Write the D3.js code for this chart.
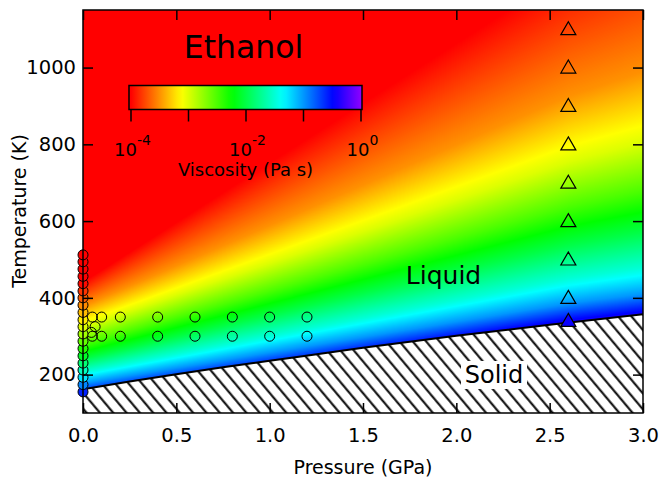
<!DOCTYPE html>
<html>
<head>
<meta charset="utf-8">
<script src="https://cdn.jsdelivr.net/npm/d3@7"></script>
<style>
  html, body { margin: 0; padding: 0; background: #fff; }
  svg { display: block; }
  text { font-family: "DejaVu Sans", sans-serif; fill: #000; }
</style>
</head>
<body>
<svg id="chart" width="662" height="483"></svg>
<script>
// ---------------- data ----------------
const pressureTicks = [0, 0.5, 1.0, 1.5, 2.0, 2.5, 3.0];
const temperatureTicks = [200, 400, 600, 800, 1000];

// iso-viscosity lines (log10 Pa s): temperature (K) at P = 0, 2.6 and 3 GPa
const viscLevels = [-4.5, -4, -3.5, -3, -2.5, -2, -1.5, -1, -0.5, 0];
const isoPressures = [0, 2.6, 3.0];
const isoT_P0   = [518, 441, 378, 325, 280, 241, 207, 177, 151, 127];
const isoT_P26  = [1600, 1250, 925, 754, 638, 538, 450, 386, 344, 302];
const isoT_P3   = [1725, 1343, 988, 804, 679, 572, 478, 410, 366, 322];

// melting curve
const meltP = [0, 0.25, 0.5, 0.75, 1.0, 1.5, 2.0, 2.5, 3.0];
const meltT = [162, 182, 201, 219, 236, 270, 301, 330, 357];

// ambient-pressure data (filled circles)
const ambientT = [155, 174, 193, 212, 230, 249, 268, 287, 306, 325, 343, 362, 381, 400, 418, 437, 456, 475, 494, 512];
const ambientLogVisc = [-0.59, -0.94, -1.27, -1.58, -1.84, -2.11, -2.35, -2.58, -2.80, -3.00, -3.18, -3.35, -3.52, -3.68, -3.82, -3.97, -4.10, -4.23, -4.35, -4.47];

// open circles (isotherms)
const isothermPressures = [0.05, 0.1, 0.2, 0.4, 0.6, 0.8, 1.0, 1.2];
const isothermTemps = [350, 300];
const extraCircleP = [0.065, 0.045];
const extraCircleT = [325, 310];

// triangles at 2.6 GPa
const trianglePressure = 2.6;
const triangleT = [1100, 1000, 900, 800, 700, 600, 500, 400, 340];
const triangleFilled = [false, false, false, false, false, false, false, false, true];
const triangleLogVisc = [null, null, null, null, null, null, null, null, -0.45];

// colour bar
const cbarTicks = [-4, -3, -2, -1, 0];
const cbarLabelExp = [-4, -2, 0];
const cmapLog = [-4, -3.12, -2.24, -1.36, -0.48, 0];
const cmapColors = ["#ff0000", "#ffff00", "#00ff00", "#00ffff", "#0000ff", "#8c00ff"];

// ---------------- scales ----------------
const svg = d3.select("#chart");
const x = d3.scaleLinear().domain([0, 3]).range([83, 643]);
const y = d3.scaleLinear().domain([100, 1150]).range([413, 10]);
const color = d3.scaleLinear().domain(cmapLog).range(cmapColors).clamp(true);
const cx = d3.scaleLinear().domain([-4, 0]).range([131, 361]);

const pw = 560, ph = 403;
const isoCols = [isoT_P0, isoT_P26, isoT_P3];

// temperatures of every iso-viscosity level at pressure P
function isoTempsAt(P) {
  let c = 0;
  if (P > isoPressures[1]) c = 1;
  const p0 = isoPressures[c], p1 = isoPressures[c + 1];
  const t = (P - p0) / (p1 - p0);
  return viscLevels.map((_, k) => isoCols[c][k] + (isoCols[c + 1][k] - isoCols[c][k]) * t);
}
function levelAt(Ts, T) {
  if (T >= Ts[0]) return viscLevels[0];
  for (let k = 1; k < Ts.length; k++) {
    if (T >= Ts[k]) {
      const t = (Ts[k - 1] - T) / (Ts[k - 1] - Ts[k]);
      return viscLevels[k - 1] + t * (viscLevels[k] - viscLevels[k - 1]);
    }
  }
  return viscLevels[viscLevels.length - 1];
}

// ---------------- viscosity field ----------------
const canvas = document.createElement("canvas");
canvas.width = pw; canvas.height = ph;
const ctx = canvas.getContext("2d");
const img = ctx.createImageData(pw, ph);
const lut = [];
for (let k = 0; k <= 1000; k++) {
  const c = d3.rgb(color(-4.5 + 5 * k / 1000));
  lut.push([c.r, c.g, c.b]);
}
for (let i = 0; i < pw; i++) {
  const P = x.invert(83 + i + 0.5);
  const Ts = isoTempsAt(P);
  for (let j = 0; j < ph; j++) {
    const T = y.invert(10 + j + 0.5);
    const L = levelAt(Ts, T);
    const idx = Math.max(0, Math.min(1000, Math.round((L + 4.5) / 5 * 1000)));
    const c = lut[idx];
    const o = (j * pw + i) * 4;
    img.data[o] = c[0]; img.data[o + 1] = c[1]; img.data[o + 2] = c[2]; img.data[o + 3] = 255;
  }
}
ctx.putImageData(img, 0, 0);

const defs = svg.append("defs");
defs.append("clipPath").attr("id", "plotclip")
  .append("rect").attr("x", 83).attr("y", 10).attr("width", pw).attr("height", ph);

const hatch = defs.append("pattern").attr("id", "hatch")
  .attr("patternUnits", "userSpaceOnUse").attr("width", 10.2).attr("height", 10)
  .attr("patternTransform", "rotate(-40)");
hatch.append("rect").attr("width", 10.2).attr("height", 10).attr("fill", "#fff");
hatch.append("line").attr("x1", 5).attr("x2", 5).attr("y1", -1).attr("y2", 11)
  .attr("stroke", "#000").attr("stroke-width", 2);

svg.append("image").attr("x", 83).attr("y", 10).attr("width", pw).attr("height", ph)
  .attr("preserveAspectRatio", "none")
  .attr("href", canvas.toDataURL());

// ---------------- solid region ----------------
const plot = svg.append("g").attr("clip-path", "url(#plotclip)");
const meltPts = meltP.map((p, i) => [x(p), y(meltT[i])]);
const solidPoly = meltPts.concat([[x(3), y(100)], [x(0), y(100)]]);
plot.append("path")
  .attr("d", "M" + solidPoly.map(d => d.join(",")).join("L") + "Z")
  .attr("fill", "url(#hatch)");
plot.append("path")
  .attr("d", d3.line().curve(d3.curveMonotoneX)(meltPts))
  .attr("fill", "none").attr("stroke", "#000").attr("stroke-width", 2);

// ---------------- markers ----------------
const isoPts = [];
isothermTemps.forEach(t => isothermPressures.forEach(p => isoPts.push([p, t])));
extraCircleP.forEach((p, i) => isoPts.push([p, extraCircleT[i]]));
svg.append("g").selectAll("circle").data(isoPts).join("circle")
  .attr("cx", d => x(d[0])).attr("cy", d => y(d[1])).attr("r", 5)
  .attr("fill", "none").attr("stroke", "#000").attr("stroke-width", 1);

svg.append("g").selectAll("circle").data(ambientT).join("circle")
  .attr("cx", x(0)).attr("cy", d => y(d)).attr("r", 5)
  .attr("fill", (d, i) => color(ambientLogVisc[i]))
  .attr("stroke", "#000").attr("stroke-width", 1);

svg.append("g").selectAll("path").data(triangleT).join("path")
  .attr("transform", d => `translate(${x(trianglePressure)},${y(d)})`)
  .attr("d", "M0,-7.5L7.5,5.5L-7.5,5.5Z")
  .attr("fill", (d, i) => triangleFilled[i] ? color(triangleLogVisc[i]) : "none")
  .attr("stroke", "#000").attr("stroke-width", 1.2);

// ---------------- frame & axes ----------------
svg.append("rect").attr("x", 83).attr("y", 10).attr("width", pw).attr("height", ph)
  .attr("fill", "none").attr("stroke", "#000").attr("stroke-width", 1.5);

const tickLen = 10;
const gb = svg.append("g").attr("transform", "translate(0,413)")
  .call(d3.axisBottom(x).tickValues(pressureTicks).tickFormat(d3.format(".1f"))
    .tickSize(-tickLen).tickPadding(15));
const gl = svg.append("g").attr("transform", "translate(83,0)")
  .call(d3.axisLeft(y).tickValues(temperatureTicks).tickFormat(d3.format("d"))
    .tickSize(-tickLen).tickPadding(7));
const gt = svg.append("g").attr("transform", "translate(0,10)")
  .call(d3.axisTop(x).tickValues(pressureTicks).tickFormat("").tickSize(-tickLen));
const gr = svg.append("g").attr("transform", "translate(643,0)")
  .call(d3.axisRight(y).tickValues(temperatureTicks).tickFormat("").tickSize(-tickLen));
[gb, gl, gt, gr].forEach(g => {
  g.select(".domain").remove();
  g.selectAll(".tick line").attr("stroke", "#000").attr("stroke-width", 1.5);
  g.selectAll(".tick text").attr("font-family", "DejaVu Sans").attr("font-size", 19.5).attr("fill", "#000");
});

svg.append("text").attr("transform", "translate(26,211) rotate(-90)")
  .attr("text-anchor", "middle").attr("font-size", 19).text("Temperature (K)");
svg.append("text").attr("x", 363).attr("y", 474)
  .attr("text-anchor", "middle").attr("font-size", 19).text("Pressure (GPa)");

// ---------------- annotations ----------------
svg.append("text").attr("x", 243.5).attr("y", 58).attr("text-anchor", "middle")
  .attr("font-size", 31.5).text("Ethanol");
svg.append("text").attr("x", 443.5).attr("y", 284).attr("text-anchor", "middle")
  .attr("font-size", 25).text("Liquid");
svg.append("rect").attr("x", 461).attr("y", 361).attr("width", 66).attr("height", 28).attr("fill", "#fff");
svg.append("text").attr("x", 494).attr("y", 383).attr("text-anchor", "middle")
  .attr("font-size", 24).text("Solid");

// ---------------- colour bar ----------------
const grad = defs.append("linearGradient").attr("id", "cbar")
  .attr("gradientUnits", "userSpaceOnUse")
  .attr("x1", cx(-4)).attr("x2", cx(0)).attr("y1", 0).attr("y2", 0);
d3.range(0, 41).forEach(k => {
  const v = -4 + k * 0.1;
  grad.append("stop").attr("offset", (k / 40 * 100) + "%").attr("stop-color", color(v));
});
svg.append("rect").attr("x", 129).attr("y", 85.5).attr("width", 233).attr("height", 24)
  .attr("fill", "url(#cbar)").attr("stroke", "#000").attr("stroke-width", 1.5);
svg.append("g").selectAll("line").data(cbarTicks).join("line")
  .attr("x1", d => cx(d)).attr("x2", d => cx(d)).attr("y1", 109.5).attr("y2", 121.5)
  .attr("stroke", "#000").attr("stroke-width", 1.5);
const lab = svg.append("g").selectAll("text").data(cbarLabelExp).join("text")
  .attr("x", d => cx(d) + 1.5).attr("y", 156).attr("text-anchor", "middle").attr("font-size", 18);
lab.append("tspan").text("10");
lab.append("tspan").attr("dy", -11).attr("font-size", 14).text(d => d < 0 ? "-" + Math.abs(d) : String(d));
svg.append("text").attr("x", 245.5).attr("y", 175.5).attr("text-anchor", "middle")
  .attr("font-size", 18).text("Viscosity (Pa s)");
</script>
</body>
</html>
